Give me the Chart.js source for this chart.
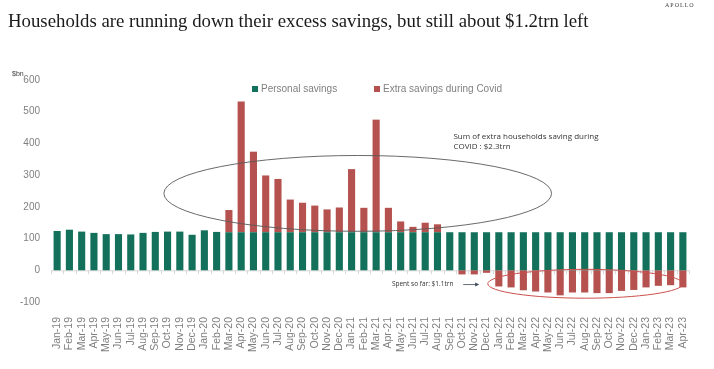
<!DOCTYPE html>
<html>
<head>
<meta charset="utf-8">
<script src="https://cdn.jsdelivr.net/npm/chart.js@4.4.0/dist/chart.umd.min.js"></script>
<style>
html,body{margin:0;padding:0;background:#fff;}
#wrap{width:714px;height:369px;position:relative;}
</style>
</head>
<body>
<div id="wrap"><canvas id="c" width="714" height="369"></canvas></div>
<script>
const categories = ["Jan-19","Feb-19","Mar-19","Apr-19","May-19","Jun-19","Jul-19","Aug-19","Sep-19","Oct-19","Nov-19","Dec-19",
"Jan-20","Feb-20","Mar-20","Apr-20","May-20","Jun-20","Jul-20","Aug-20","Sep-20","Oct-20","Nov-20","Dec-20",
"Jan-21","Feb-21","Mar-21","Apr-21","May-21","Jun-21","Jul-21","Aug-21","Sep-21","Oct-21","Nov-21","Dec-21",
"Jan-22","Feb-22","Mar-22","Apr-22","May-22","Jun-22","Jul-22","Aug-22","Sep-22","Oct-22","Nov-22","Dec-22",
"Jan-23","Feb-23","Mar-23","Apr-23"];

const personalSavings = [124,128,122,118,114,114,113,118,121,122,122,112,
126,121,120,120,120,120,120,120,120,120,120,120,
120,120,120,120,120,120,120,120,120,120,120,120,
120,120,120,120,120,120,120,120,120,120,120,120,
120,120,120,120];

const extraSavings = [null,null,null,null,null,null,null,null,null,null,null,null,
null,null,70,412,254,179,168,103,93,84,72,78,
199,77,355,77,34,17,30,25,null,-13,-13,-8,
-51,-54,-63,-67,-70,-79,-70,-70,-72,-72,-65,-62,
-54,-49,-47,-54];

const yTicks = [-100,0,100,200,300,400,500,600];

const titleText = "Households are running down their excess savings, but still about $1.2trn left";
const noteCovid = ["Sum of extra households saving during", "COVID : $2.3trn"];
const noteSpent = "Spent so far: $1.1trn";

const GREEN = "#13705A";
const RED = "#B5514E";

const decor = {
  id: 'decor',
  beforeDatasetsDraw(chart) {
    const ctx = chart.ctx, x = chart.scales.x, y = chart.scales.y;
    const y0 = y.getPixelForValue(0);
    ctx.save();
    ctx.strokeStyle = '#d9d9d9';
    ctx.lineWidth = 1;
    ctx.beginPath();
    ctx.moveTo(chart.chartArea.left, y0 + 0.5);
    ctx.lineTo(chart.chartArea.right, y0 + 0.5);
    for (let i = 0; i <= categories.length; i++) {
      const px = Math.round(x.getPixelForValue(i - 0.5)) + 0.5;
      ctx.moveTo(px, y0);
      ctx.lineTo(px, y0 + 4);
    }
    ctx.stroke();
    ctx.restore();
  },
  afterDraw(chart) {
    const ctx = chart.ctx, x = chart.scales.x, y = chart.scales.y;
    ctx.save();
    // title
    ctx.fillStyle = '#1a1a1a';
    ctx.font = '18.8px "Liberation Serif", serif';
    ctx.textBaseline = 'alphabetic';
    ctx.textAlign = 'left';
    ctx.fillText(titleText, 8, 27);
    // APOLLO
    ctx.font = '6px "Liberation Serif", serif';
    ctx.fillStyle = '#444';
    ctx.letterSpacing = '1px';
    ctx.fillText('APOLLO', 665, 7);
    ctx.letterSpacing = '0px';
    // $bn
    ctx.font = '7px "Liberation Sans", sans-serif';
    ctx.fillStyle = '#404040';
    ctx.fillText('$bn', 12, 76);
    // legend
    ctx.font = '10px "Liberation Sans", sans-serif';
    ctx.textBaseline = 'middle';
    const ds = chart.data.datasets;
    const legendX = [252, 374];
    ds.forEach((d, i) => {
      ctx.fillStyle = d.backgroundColor;
      ctx.fillRect(legendX[i], 86, 6, 6);
      ctx.fillStyle = '#808080';
      ctx.fillText(d.label, legendX[i] + 9, 89.5);
    });
    // ellipse 1 (covid savings)
    const e1l = x.getPixelForValue(8.7), e1r = x.getPixelForValue(40.3);
    const e1t = y.getPixelForValue(362), e1b = y.getPixelForValue(123);
    ctx.strokeStyle = '#595959';
    ctx.lineWidth = 0.9;
    ctx.beginPath();
    ctx.ellipse((e1l + e1r) / 2, (e1t + e1b) / 2, (e1r - e1l) / 2, (e1b - e1t) / 2, 0, 0, Math.PI * 2);
    ctx.stroke();
    // ellipse 2 (spent)
    const e2l = x.getPixelForValue(35.1), e2r = x.getPixelForValue(51.0);
    const e2t = y.getPixelForValue(3), e2b = y.getPixelForValue(-88);
    ctx.strokeStyle = '#C9504D';
    ctx.lineWidth = 1;
    ctx.beginPath();
    ctx.ellipse((e2l + e2r) / 2, (e2t + e2b) / 2, (e2r - e2l) / 2, (e2b - e2t) / 2, 0, 0, Math.PI * 2);
    ctx.stroke();
    // note covid
    ctx.fillStyle = '#333';
    ctx.font = '8px "Open Sans", sans-serif';
    ctx.textAlign = 'left';
    ctx.textBaseline = 'middle';
    const nx = x.getPixelForValue(32.3);
    ctx.fillText(noteCovid[0], nx, y.getPixelForValue(421));
    ctx.fillText(noteCovid[1], nx, y.getPixelForValue(389));
    // note spent + arrow
    const sy = y.getPixelForValue(-45);
    ctx.font = '6.5px "Open Sans", sans-serif';
    ctx.textAlign = 'right';
    ctx.fillText(noteSpent, x.getPixelForValue(32.3), sy);
    const a0 = x.getPixelForValue(33.1), a1 = x.getPixelForValue(34.4);
    ctx.strokeStyle = '#3a4a5a';
    ctx.fillStyle = '#3a4a5a';
    ctx.lineWidth = 0.8;
    ctx.beginPath();
    ctx.moveTo(a0, sy); ctx.lineTo(a1 - 3, sy); ctx.stroke();
    ctx.beginPath();
    ctx.moveTo(a1, sy); ctx.lineTo(a1 - 4, sy - 2); ctx.lineTo(a1 - 4, sy + 2); ctx.closePath(); ctx.fill();
    ctx.restore();
  }
};

new Chart(document.getElementById('c'), {
  type: 'bar',
  data: {
    labels: categories,
    datasets: [
      { label: 'Personal savings', data: personalSavings, backgroundColor: GREEN, categoryPercentage: 1, barPercentage: 0.58 },
      { label: 'Extra savings during Covid', data: extraSavings, backgroundColor: RED, categoryPercentage: 1, barPercentage: 0.58 }
    ]
  },
  options: {
    responsive: false,
    animation: false,
    events: [],
    layout: { padding: { left: 0, right: 25, top: 80, bottom: 0 } },
    plugins: { legend: { display: false }, title: { display: false }, tooltip: { enabled: false } },
    scales: {
      x: {
        stacked: true,
        grid: { display: false },
        border: { display: false },
        ticks: { autoSkip: false, maxRotation: 90, minRotation: 90, padding: 7, color: '#7f7f7f', font: { family: 'Liberation Sans', size: 10.5 } },
        afterFit(s) { s.height = 67; }
      },
      y: {
        stacked: true,
        min: -100, max: 600,
        afterBuildTicks(s) { s.ticks = yTicks.map(v => ({ value: v })); },
        grid: { display: false, drawTicks: false },
        border: { display: false },
        ticks: { padding: 11, color: '#7f7f7f', font: { family: 'Liberation Sans', size: 10 } },
        afterFit(s) { s.width = 51; }
      }
    }
  },
  plugins: [decor]
});
</script>
</body>
</html>
